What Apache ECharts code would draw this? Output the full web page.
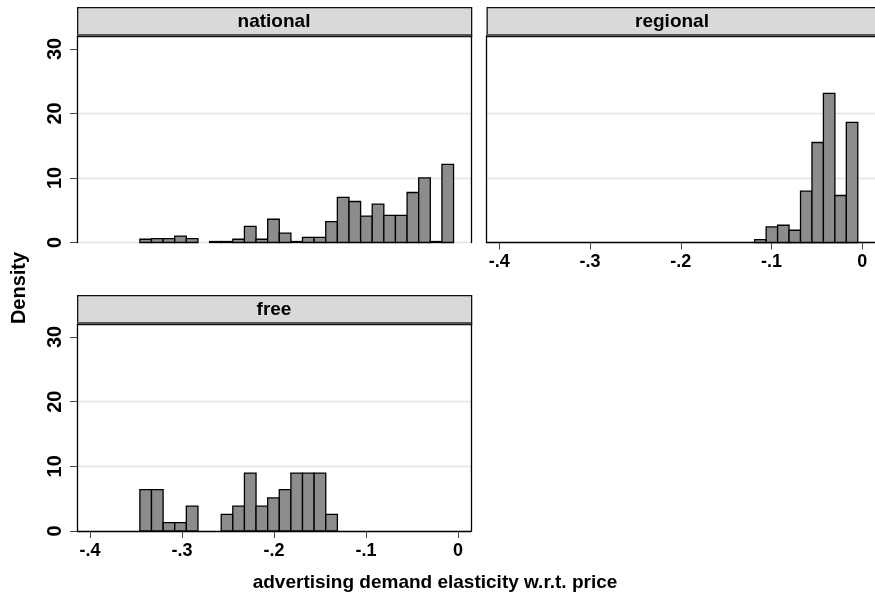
<!DOCTYPE html>
<html>
<head>
<meta charset="utf-8">
<script src="https://cdn.jsdelivr.net/npm/echarts@6/dist/echarts.min.js"></script>
<style>
  html, body { margin: 0; padding: 0; background: #fff; }
  #chart { width: 875px; height: 600px; }
</style>
</head>
<body>
<div id="chart"></div>
<script>
// histogram bins shared by all panels
const binStart = -0.3457;
const binWidth = 0.01262;

const panelNames = ["national", "regional", "free"];

// density per bin, first entry sits in bin number *FirstBin
const nationalFirstBin = 0;
const nationalDensity = [0.5, 0.6, 0.6, 1.0, 0.6, 0, 0.15, 0.15, 0.5, 2.5, 0.5, 3.6, 1.45, 0.15,
                         0.8, 0.8, 3.25, 7.0, 6.35, 4.1, 5.95, 4.2, 4.2, 7.75, 10.0, 0.15, 12.1];
const regionalFirstBin = 18;
const regionalDensity = [0.46, 2.41, 2.67, 1.9, 7.95, 15.5, 23.1, 7.28, 18.6];
const freeFirstBin = 0;
const freeDensity = [6.39, 6.39, 1.28, 1.28, 3.83, 0, 0, 2.56, 3.83, 8.95, 3.83, 5.11, 6.39,
                     8.95, 8.95, 8.95, 2.56];

const xTicks = [-0.4, -0.3, -0.2, -0.1, 0];
const yTicks = [0, 10, 20, 30];

const xTitle = "advertising demand elasticity w.r.t. price";
const yTitle = "Density";

const FONT = "'Liberation Sans', Arial, sans-serif";
const X_MIN = -0.414, X_MAX = 0.014, Y_MAX = 32;

// panel boxes (plot region) in px
const panels = [
    {left: 77, top: 36, width: 394, height: 206.5, xLabels: false, yLabels: true, rightBorder: true},
    {left: 486.5, top: 36, width: 394, height: 206.5, xLabels: true, yLabels: false, rightBorder: false, titleX: 672},
    {left: 77, top: 324, width: 394, height: 207, xLabels: true, yLabels: true, rightBorder: true}
];
const densities = [nationalDensity, regionalDensity, freeDensity];
const firstBins = [nationalFirstBin, regionalFirstBin, freeFirstBin];

function binData(first, dens) {
    const out = [];
    dens.forEach((d, i) => {
        if (d <= 0) return;
        const x0 = binStart + (first + i) * binWidth;
        out.push([x0, x0 + binWidth, d]);
    });
    return out;
}

function renderBar(params, api) {
    const p0 = api.coord([api.value(0), api.value(2)]);
    const p1 = api.coord([api.value(1), 0]);
    return {
        type: "rect",
        shape: {x: p0[0], y: p0[1], width: p1[0] - p0[0], height: p1[1] - p0[1]},
        style: {fill: "#8c8c8c", stroke: "#000", lineWidth: 1.3}
    };
}

const fmtX = v => v === 0 ? "0" : String(v).replace("0.", ".");

const grid = [], xAxis = [], yAxis = [], series = [], graphic = [];

panels.forEach((p, i) => {
    grid.push({left: p.left, top: p.top, width: p.width, height: p.height});
    xAxis.push({
        type: "value", gridIndex: i, min: X_MIN, max: X_MAX,
        axisLine: {show: p.xLabels, onZero: false, lineStyle: {color: "#000", width: 1.3}},
        axisTick: {show: p.xLabels, length: 7, customValues: xTicks, lineStyle: {color: "#444"}},
        axisLabel: {show: p.xLabels, customValues: xTicks, formatter: fmtX, margin: 11,
                    fontFamily: FONT, fontWeight: "bold", fontSize: 18, color: "#000"},
        splitLine: {show: false}
    });
    yAxis.push({
        type: "value", gridIndex: i, min: 0, max: Y_MAX, interval: 10,
        axisLine: {show: true, onZero: false, lineStyle: {color: "#000", width: 1.3}},
        axisTick: {show: p.yLabels, length: 7, customValues: yTicks, lineStyle: {color: "#444"}},
        axisLabel: {show: p.yLabels, customValues: yTicks, rotate: 90, margin: 12,
                    fontFamily: FONT, fontWeight: "bold", fontSize: 20, color: "#000"},
        splitLine: {show: true, lineStyle: {color: ["#e4e4e4", "#e4e4e4", "#e4e4e4", "rgba(0,0,0,0)", "rgba(0,0,0,0)"], width: 1.3}}
    });
    if (p.rightBorder) {
        yAxis.push({
            type: "value", gridIndex: i, position: "right", min: 0, max: Y_MAX,
            axisLine: {show: true, onZero: false, lineStyle: {color: "#000", width: 1.3}},
            axisTick: {show: false}, axisLabel: {show: false}, splitLine: {show: false}
        });
    }
    series.push({
        type: "custom", xAxisIndex: i, yAxisIndex: yAxis.length - (p.rightBorder ? 2 : 1),
        renderItem: renderBar, encode: {x: [0, 1], y: 2},
        data: binData(firstBins[i], densities[i]), silent: true
    });

    // strip header above each panel
    graphic.push({
        type: "rect", left: p.left, top: p.top - 29,
        shape: {width: p.width, height: 29},
        style: {fill: "#d9d9d9", stroke: "#111", lineWidth: 1.3}
    });
    graphic.push({
        type: "rect", left: p.left, top: p.top - 2,
        shape: {width: p.width, height: 2},
        style: {fill: "#555"}
    });
    graphic.push({
        type: "text", x: p.titleX || (p.left + p.width / 2), y: p.top - 14.5,
        style: {text: panelNames[i], font: "bold 19px " + FONT, fill: "#000",
                textAlign: "center", textVerticalAlign: "middle"}
    });
});

graphic.push({
    type: "text", x: 19, y: 288, rotation: Math.PI / 2,
    style: {text: yTitle, font: "bold 20px " + FONT, fill: "#000",
            textAlign: "center", textVerticalAlign: "middle"}
});
graphic.push({
    type: "text", x: 435, y: 583,
    style: {text: xTitle, font: "bold 19px " + FONT, fill: "#000",
            textAlign: "center", textVerticalAlign: "middle"}
});

const chart = echarts.init(document.getElementById("chart"));
chart.setOption({
    backgroundColor: "#fff",
    animation: false,
    grid: grid,
    xAxis: xAxis,
    yAxis: yAxis,
    series: series,
    graphic: graphic
});
</script>
</body>
</html>
